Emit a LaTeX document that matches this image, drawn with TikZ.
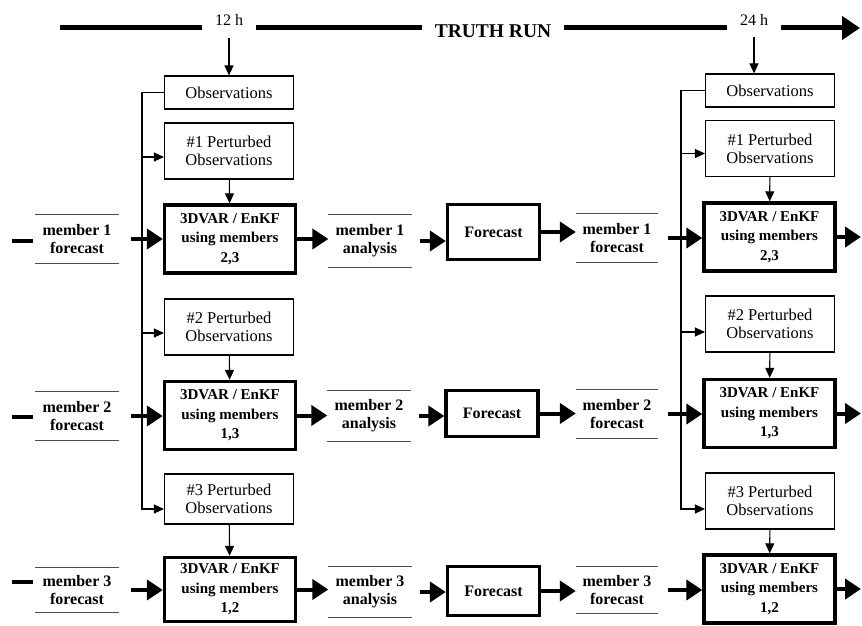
\documentclass[tikz,border=0pt]{standalone}
\usepackage{fontspec}
\setmainfont{Liberation Serif}
\usetikzlibrary{arrows.meta}

\begin{document}
\begin{tikzpicture}[x=1pt,y=-1pt,font=\fontsize{16.5}{18}\selectfont,
  >={Triangle[length=10pt,width=9pt]},
  obsbox/.style={draw,line width=1.1pt,minimum width=129pt,minimum height=56pt,inner sep=0pt,align=center},
  dabox/.style={draw,line width=3.4pt,minimum width=131pt,minimum height=68pt,inner sep=0pt,align=center,
    font=\fontsize{15}{19.5}\selectfont\bfseries},
  fcbox/.style={dabox,minimum width=92pt,minimum height=52pt,font=\fontsize{16}{19}\selectfont\bfseries},
  memlbl/.style={minimum width=83pt,minimum height=48pt,inner sep=0pt,align=center,
    font=\fontsize{16}{18}\selectfont\bfseries},
  timelbl/.style={inner xsep=13pt,inner ysep=2pt,font=\fontsize{16}{18}\selectfont},
  thinarrow/.style={->,line width=1.1pt},
  bigarrow/.style={line width=4pt,-{Triangle[length=16pt,width=20pt]}}]

\useasboundingbox (0,0) rectangle (862,626);

% Time axis of the truth run
\coordinate (tl) at (60,28);
\coordinate (tend) at (860,28);
\node[timelbl] (t12) at (229,20) {12 h};
\node[timelbl,inner xsep=13pt,font=\fontsize{19.5}{22}\selectfont\bfseries] (truth) at (493,31) {TRUTH RUN};
\node[timelbl] (t24) at (754,20) {24 h};
\draw[line width=5pt] (tl) -- (t12.west |- tl) (t12.east |- tl) -- (truth.west |- tl)
  (truth.east |- tl) -- (t24.west |- tl);
\draw[line width=5pt,-{Triangle[length=18pt,width=23pt]}] (t24.east |- tl) -- (tend);

% Analysis cycle at 12 h
\node[obsbox,minimum height=33pt] (obsL) at (229,92.5) {Observations};
\node[obsbox] (p1L) at (229,151) {\#1 Perturbed\\Observations};
\node[obsbox] (p2L) at (229,327) {\#2 Perturbed\\Observations};
\node[obsbox,minimum height=50pt] (p3L) at (229,499) {\#3 Perturbed\\Observations};
\node[dabox] (daL1) at (230,239) {3DVAR / EnKF\\using members\\2,3};
\node[dabox] (daL2) at (230,415.5) {3DVAR / EnKF\\using members\\1,3};
\node[dabox,minimum height=64pt] (daL3) at (230,589.5) {3DVAR / EnKF\\using members\\1,2};

% Analysis cycle at 24 h
\node[obsbox,minimum height=33pt] (obsR) at (770,90.5) {Observations};
\node[obsbox] (p1R) at (770,148.5) {\#1 Perturbed\\Observations};
\node[obsbox] (p2R) at (770,324) {\#2 Perturbed\\Observations};
\node[obsbox] (p3R) at (770,501) {\#3 Perturbed\\Observations};
\node[dabox] (daR1) at (769.5,237) {3DVAR / EnKF\\using members\\2,3};
\node[dabox] (daR2) at (769.5,413.5) {3DVAR / EnKF\\using members\\1,3};
\node[dabox] (daR3) at (769.5,589) {3DVAR / EnKF\\using members\\1,2};

% Members and forecasts in between
\node[memlbl] (mf1L) at (77,239) {member 1\\forecast};
\node[memlbl] (mf2L) at (77,416) {member 2\\forecast};
\node[memlbl,minimum height=45pt] (mf3L) at (77,590) {member 3\\forecast};
\node[memlbl,minimum height=53pt] (ma1) at (370,241) {member 1\\analysis};
\node[memlbl,minimum height=50pt] (ma2) at (369,416) {member 2\\analysis};
\node[memlbl,minimum height=50pt] (ma3) at (370,592) {member 3\\analysis};
\node[fcbox,minimum height=55pt] (fc1) at (493.5,232) {Forecast};
\node[fcbox,minimum height=46pt] (fc2) at (492,413.5) {Forecast};
\node[fcbox,minimum height=49pt] (fc3) at (493.5,591) {Forecast};
\node[memlbl,minimum width=82pt] (mf1R) at (617,238) {member 1\\forecast};
\node[memlbl,minimum width=82pt] (mf2R) at (617,414) {member 2\\forecast};
\node[memlbl,minimum width=82pt,minimum height=46pt] (mf3R) at (617,590) {member 3\\forecast};
\foreach \n in {mf1L,mf2L,mf3L,ma1,ma2,ma3,mf1R,mf2R,mf3R}
  \draw[black!70,line width=0.8pt] (\n.north west) -- (\n.north east) (\n.south west) -- (\n.south east);

% Observation feeds
\coordinate (busL) at (142,0);
\coordinate (busR) at (681,0);
\draw[thinarrow,shorten <=10pt] (t12.south) -- (obsL.north);
\draw[thinarrow,shorten <=9pt] (t24.south) -- (t24.south |- obsR.north);
\draw[thinarrow] (obsL.west) -| ([yshift=-10pt]p3L.west -| busL) -- ([yshift=-10pt]p3L.west);
\draw[thinarrow] ([yshift=-6pt]p1L.west -| busL) -- ([yshift=-6pt]p1L.west);
\draw[thinarrow] ([yshift=-6pt]p2L.west -| busL) -- ([yshift=-6pt]p2L.west);
\draw[thinarrow] (obsR.west) -| ([yshift=-8pt]p3R.west -| busR) -- ([yshift=-8pt]p3R.west);
\draw[thinarrow] ([yshift=-5pt]p1R.west -| busR) -- ([yshift=-5pt]p1R.west);
\draw[thinarrow] ([yshift=-8pt]p2R.west -| busR) -- ([yshift=-8pt]p2R.west);
\draw[thinarrow] (p1L) -- (daL1);
\draw[thinarrow] (p2L) -- (daL2);
\draw[thinarrow] (p3L) -- (daL3);
\draw[thinarrow] (p1R) -- (daR1);
\draw[thinarrow] (p2R) -- (daR2);
\draw[thinarrow] (p3R) -- (daR3);

% Member cycle: forecast -> analysis -> forecast
\coordinate (in1) at (12,241);
\coordinate (in2) at (12,417);
\coordinate (in3) at (12,582);
\coordinate (out1) at (861,237);
\coordinate (out2) at (861,413.5);
\coordinate (out3) at (861,589);
\draw[line width=4pt,shorten >=2pt] (in1) -- (mf1L.west |- in1);
\draw[line width=4pt,shorten >=2pt] (in2) -- (mf2L.west |- in2);
\draw[line width=4pt,shorten >=2pt] (in3) -- (mf3L.west |- in3);
\draw[bigarrow,shorten <=12pt] (mf1L.east) -- (mf1L.east -| daL1.west);
\draw[bigarrow,shorten <=12pt] (mf2L.east) -- (mf2L.east -| daL2.west);
\draw[bigarrow,shorten <=12pt] (mf3L.east) -- (mf3L.east -| daL3.west);
\draw[bigarrow] (daL1.east) -- (daL1.east -| ma1.west);
\draw[bigarrow] (daL2.east) -- (daL2.east -| ma2.west);
\draw[bigarrow] (daL3.east) -- (daL3.east -| ma3.west);
\draw[bigarrow,shorten <=8pt] (ma1.east) -- (ma1.east -| fc1.west);
\draw[bigarrow,shorten <=8pt] (ma2.east) -- (ma2.east -| fc2.west);
\draw[bigarrow,shorten <=8pt] (ma3.east) -- (ma3.east -| fc3.west);
\draw[bigarrow] (fc1.east) -- (fc1.east -| mf1R.west);
\draw[bigarrow] (fc2.east) -- (fc2.east -| mf2R.west);
\draw[bigarrow] (fc3.east) -- (fc3.east -| mf3R.west);
\draw[bigarrow,shorten <=10pt] (mf1R.east) -- (mf1R.east -| daR1.west);
\draw[bigarrow,shorten <=10pt] (mf2R.east) -- (mf2R.east -| daR2.west);
\draw[bigarrow,shorten <=10pt] (mf3R.east) -- (mf3R.east -| daR3.west);
\draw[bigarrow] (daR1.east) -- (out1);
\draw[bigarrow] (daR2.east) -- (out2);
\draw[bigarrow] (daR3.east) -- (out3);

\end{tikzpicture}
\end{document}
